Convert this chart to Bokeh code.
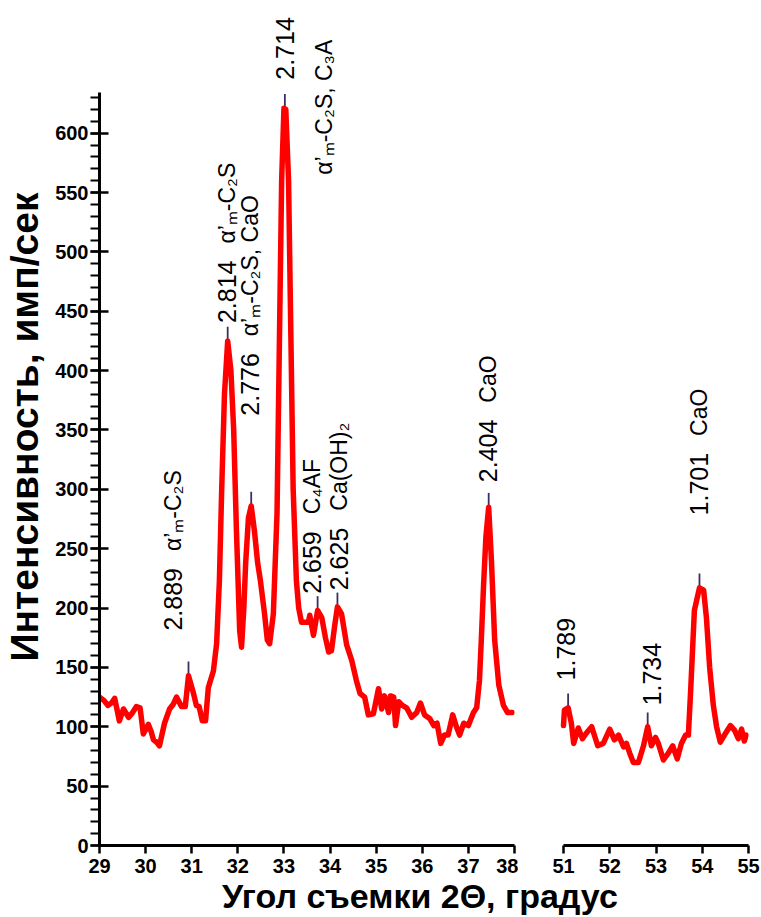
from math import pi
from bokeh.plotting import figure
from bokeh.models import Range1d, FixedTicker, SingleIntervalTicker, Div
from bokeh.layouts import row, column
from bokeh.core.properties import value
from bokeh.embed import file_html
from bokeh.resources import INLINE

# ---------------- data ----------------
left_x = [29.0, 29.1, 29.18, 29.26, 29.33, 29.43, 29.52, 29.63, 29.7, 29.8, 29.88, 29.95,
          30.06, 30.12, 30.17, 30.24, 30.3, 30.41, 30.52, 30.6, 30.67, 30.78, 30.86, 30.93,
          31.04, 31.1, 31.16, 31.23, 31.3, 31.36, 31.47, 31.54, 31.6, 31.65, 31.71, 31.78,
          31.85, 31.91, 31.97, 32.04, 32.08, 32.13, 32.17, 32.23, 32.29, 32.36, 32.43, 32.49,
          32.58, 32.64, 32.69, 32.77, 32.85, 32.9, 32.95, 33.0, 33.04, 33.1, 33.15, 33.2,
          33.27, 33.32, 33.38, 33.46, 33.53, 33.56, 33.64, 33.73, 33.82, 33.9, 33.97, 34.03,
          34.1, 34.16, 34.25, 34.36, 34.47, 34.57, 34.65, 34.75, 34.83, 34.94, 35.05, 35.12,
          35.18, 35.27, 35.31, 35.38, 35.42, 35.49, 35.57, 35.66, 35.77, 35.88, 35.96, 36.05,
          36.16, 36.25, 36.32, 36.4, 36.48, 36.56, 36.66, 36.74, 36.81, 36.9, 37.0, 37.11,
          37.18, 37.24, 37.28, 37.33, 37.38, 37.44, 37.5, 37.57, 37.66, 37.76, 37.85, 37.95]
left_y = [125, 122, 118, 120, 124, 105, 115, 108, 111, 117, 116, 94,
          102, 96, 89, 87, 84, 103, 115, 119, 125, 117, 117, 143,
          128, 118, 117, 105, 105, 133, 147, 170, 223, 300, 380, 425,
          400, 350, 265, 181, 167, 200, 238, 276, 286, 265, 238, 223,
          195, 173, 170, 195, 280, 420, 560, 621, 620, 560, 430, 300,
          223, 200, 188, 188, 188, 194, 177, 198, 192, 175, 163, 164,
          185, 201, 195, 169, 156, 139, 128, 125, 110, 111, 132, 115,
          126, 112, 126, 125, 101, 121, 118, 116, 108, 112, 120, 110,
          107, 101, 103, 86, 93, 93, 110, 100, 93, 103, 101, 112,
          116, 139, 173, 220, 260, 285, 240, 173, 135, 118, 112, 112]

right_x = [51.0, 51.02, 51.1, 51.17, 51.22, 51.32, 51.41, 51.5, 51.61, 51.74, 51.86, 52.0,
           52.1, 52.19, 52.3, 52.36, 52.43, 52.51, 52.62, 52.73, 52.82, 52.9, 52.99, 53.05,
           53.16, 53.27, 53.36, 53.46, 53.55, 53.64, 53.7, 53.75, 53.83, 53.94, 54.03, 54.09,
           54.16, 54.24, 54.31, 54.39, 54.48, 54.61, 54.7, 54.78, 54.85, 54.91, 54.95]
right_y = [101, 114, 116, 103, 86, 99, 90, 95, 100, 84, 86, 98,
           89, 93, 83, 86, 78, 70, 70, 84, 100, 84, 91, 86,
           72, 78, 84, 73, 86, 93, 93, 131, 198, 217, 215, 192,
           150, 118, 100, 87, 93, 101, 97, 90, 98, 88, 93]

peak_x_left = [30.93, 31.78, 32.29, 33.02, 33.73, 34.16, 37.44]
peak_y_left = [143, 425, 286, 621, 198, 201, 285]
peak_x_right = [51.1, 52.82, 53.94]
peak_y_right = [116, 100, 217]

# d-spacing labels (numbers) and phase labels
num_left = ["2.889", "2.814", "2.776", "2.714", "2.659", "2.625", "2.404"]
num_x_left = [30.60, 31.77, 32.27, 33.03, 33.60, 34.19, 37.43]
num_y_left = [181, 440, 362, 645, 212, 215, 306]
phase_left = ["α’ₘ-C₂S", "α’ₘ-C₂S", "α’ₘ-C₂S, CaO", "α’ₘ-C₂S, C₃A", "C₄AF", "Ca(OH)₂", "CaO"]
phase_x_left = [30.60, 31.77, 32.27, 33.86, 33.60, 34.19, 37.43]
phase_y_left = [248, 507, 429, 565, 279, 282, 373]

num_right = ["1.789", "1.734", "1.701"]
num_x_right = [51.06, 52.92, 53.94]
num_y_right = [139, 118, 278]
phase_right = ["CaO"]
phase_x_right = [53.94]
phase_y_right = [345]

x_ticks_left = list(range(29, 39))
x_ticks_right = list(range(51, 56))
y_axis_end = 634

FONT = "Liberation Sans"
RED = "#ff0000"
TICKC = "#3d2e63"
NUM_SIZE = "25px"
PHASE_SIZE = "23px"

yr = Range1d(0, 705)


def style_xaxis(p, ticks, bounds):
    ax = p.xaxis[0]
    ax.ticker = FixedTicker(ticks=ticks)
    ax.bounds = bounds
    ax.axis_line_width = 3
    ax.axis_line_color = "black"
    ax.major_tick_line_width = 2.5
    ax.major_tick_out = 8
    ax.major_tick_in = 0
    ax.minor_tick_line_color = None
    ax.major_label_text_font = FONT
    ax.major_label_text_font_size = "20px"
    ax.major_label_text_font_style = "bold"
    ax.major_label_text_color = "black"
    ax.major_label_standoff = 5


def base(xr, fw, ml, mr, yaxis):
    p = figure(x_range=xr, y_range=yr, frame_width=fw, frame_height=837,
               min_border_left=ml, min_border_right=mr, min_border_top=8,
               min_border_bottom=37, output_backend="svg", toolbar_location=None,
               y_axis_location="left" if yaxis else None)
    p.grid.visible = False
    p.outline_line_color = None
    p.background_fill_color = "white"
    p.border_fill_color = "white"
    return p


def annotate(p, nx, ny, nt, px, py, pt):
    p.text(x=nx, y=ny, text=nt, angle=pi / 2, text_font=value(FONT),
           text_font_size=NUM_SIZE, text_align="left", text_baseline="middle",
           text_color="black")
    p.text(x=px, y=py, text=pt, angle=pi / 2, text_font=value(FONT),
           text_font_size=PHASE_SIZE, text_align="left", text_baseline="middle",
           text_color="black")


# ---------------- left panel ----------------
p1 = base(Range1d(29, 38), 415, 98, 4, True)
style_xaxis(p1, x_ticks_left, (29, 38))
ya = p1.yaxis[0]
ya.ticker = SingleIntervalTicker(interval=50, num_minor_ticks=5)
ya.bounds = (0, y_axis_end)
ya.axis_line_width = 3
ya.major_tick_line_width = 2.5
ya.major_tick_out = 9
ya.major_tick_in = 9
ya.minor_tick_line_width = 2
ya.minor_tick_out = 9
ya.minor_tick_in = 0
ya.major_label_text_font = FONT
ya.major_label_text_font_size = "20px"
ya.major_label_text_font_style = "bold"
ya.major_label_text_color = "black"
ya.major_label_standoff = 2
ya.axis_label = "Интенсивность, имп/сек"
ya.axis_label_text_font = FONT
ya.axis_label_text_font_size = "39px"
ya.axis_label_text_font_style = "bold"
ya.axis_label_text_color = "black"
ya.axis_label_standoff = 6

p1.segment(x0=peak_x_left, y0=[v - 5 for v in peak_y_left], x1=peak_x_left,
           y1=[v + 12 for v in peak_y_left], line_color=TICKC, line_width=1.8)
p1.line(left_x, left_y, line_color=RED, line_width=5.5, line_join="round", line_cap="round")
annotate(p1, num_x_left, num_y_left, num_left, phase_x_left, phase_y_left, phase_left)

# ---------------- right panel ----------------
# frame reaches a little left of 51 so the "1.789" label is not clipped; axis bounded to 51-55
p2 = base(Range1d(55 - 194 / 46.25, 55), 194, 36, 12, False)
style_xaxis(p2, x_ticks_right, (51, 55))
p2.segment(x0=peak_x_right, y0=[v - 5 for v in peak_y_right], x1=peak_x_right,
           y1=[v + 12 for v in peak_y_right], line_color=TICKC, line_width=1.8)
p2.line(right_x, right_y, line_color=RED, line_width=5.5, line_join="round", line_cap="round")
annotate(p2, num_x_right, num_y_right, num_right, phase_x_right, phase_y_right, phase_right)

xlabel = Div(text='<div style="margin-left:222px;font-family:\'Liberation Sans\',Arial,sans-serif;'
                  'font-weight:bold;font-size:34px;line-height:28px;white-space:nowrap;color:black">'
                  'Угол съемки 2Θ, градус</div>',
             width=759, height=35, margin=(0, 0, 0, 0))

layout = column(row(p1, p2, spacing=0), xlabel, spacing=0)

open("out.html", "w").write(file_html(layout, INLINE))
